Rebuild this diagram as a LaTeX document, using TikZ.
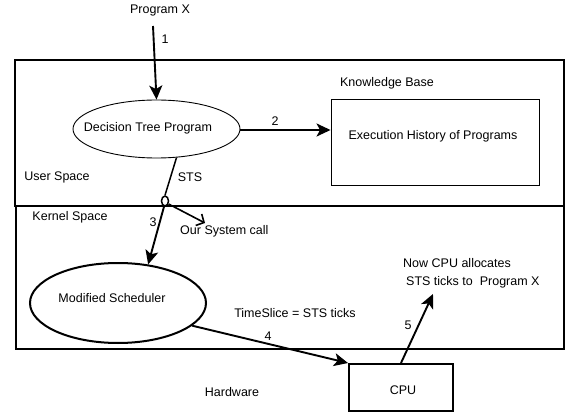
\documentclass[tikz,border=0pt]{standalone}
\usepackage{fontspec}
\setmainfont{Liberation Sans}
\usetikzlibrary{shapes.geometric,arrows.meta}
\begin{document}
\begin{tikzpicture}[x=1pt,y=-1pt,
  txt/.style={inner sep=0pt,font=\fontsize{12.5}{19}\selectfont},
  arr/.style={line width=1.9pt,-{Stealth[length=14pt,width=13pt,inset=3.5pt]}},
  thinbox/.style={draw,line width=0.9pt,inner sep=0pt},
  boldbox/.style={draw,line width=2pt,inner sep=0pt}]
\useasboundingbox (0,0) rectangle (566,412);

% spaces
\node[draw,line width=1.2pt,minimum width=548pt,minimum height=143pt,inner sep=0pt] (kernel) at (290,277.5) {};
\node[draw,line width=2.5pt,minimum width=549pt,minimum height=146pt,inner sep=0pt] (user) at (289.5,133) {};

% labels of the regions
\node[txt] (userlbl) at (57,177) {User Space};
\node[txt] (kernlbl) at (70,217) {Kernel Space};
\node[txt] (hwlbl) at (232,392) {Hardware};
\node[txt] (kblbl) at (387,83) {Knowledge Base};

% components
\node[txt] (progx) at (160,10) {Program X};
\node[thinbox,ellipse,minimum width=167pt,minimum height=58pt] (dt) at (156.5,129) {};
\node[txt] at (148,128) {Decision Tree Program};
\node[thinbox,minimum width=208pt,minimum height=86pt] (hist) at (435,142) {};
\node[txt] (histtxt) at (433,136) {Execution History of Programs};
\node[boldbox,ellipse,minimum width=176pt,minimum height=80pt] (sched) at (118,303) {};
\node[txt] (schedtxt) at (112,298) {Modified Scheduler};
\node[boldbox,minimum width=104pt,minimum height=47pt] (cpu) at (401,387.5) {};
\node[txt] (cputxt) at (403,390) {CPU};
\node[draw,line width=1.5pt,ellipse,minimum width=7pt,minimum height=10pt,inner sep=0pt] (sc) at (165,201) {};

% free ends of connectors
\coordinate (start1) at (153,26);
\coordinate (callend) at (205,223);
\coordinate (noteend) at (433,294);

% connectors
\draw[arr] (start1) -- (dt.north);
\draw[arr] (dt.east |- 0,130) -- (hist.west |- 0,130);
\draw[line width=1.5pt] (dt.-55) -- (sc.north);
\draw[arr] (sc.-100) -- (sched.52);
\draw[line width=1.6pt,-{Straight Barb[length=6pt,width=13pt]}] (sc.-40) -- (callend);
\draw[arr] (sched.-17) -- (cpu.north west);
\draw[arr] (cpu.north) -- (noteend);

% connector labels
\node[txt] (l1) at (165,39) {1};
\node[txt] (l2) at (275,121) {2};
\node[txt] (lsts) at (190,177) {STS};
\node[txt] (l3) at (153,222) {3};
\node[txt,anchor=west] (calltxt) at (180,231) {Our System call};
\node[txt] (slice) at (295,313) {TimeSlice = STS ticks};
\node[txt] (l4) at (268,336) {4};
\node[txt] (l5) at (408,325) {5};
\node[txt,anchor=west] (note1) at (403,263) {Now CPU allocates};
\node[txt,anchor=west] (note2) at (406,282) {STS ticks to\ \ Program X};
\end{tikzpicture}
\end{document}
